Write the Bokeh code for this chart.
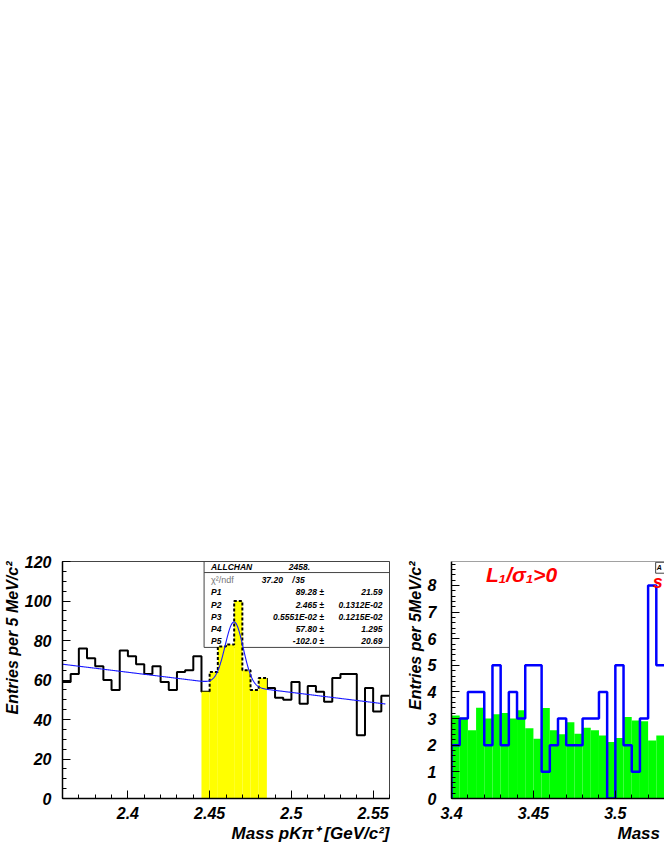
import numpy as np
from bokeh.plotting import figure
from bokeh.models import (Range1d, SingleIntervalTicker, FixedTicker, Span,
                          Label, Title, CustomJSTickFormatter, Spacer)
from bokeh.layouts import column, row
from bokeh.core.properties import value
from bokeh.embed import file_html
from bokeh.resources import INLINE

FONT = "Liberation Sans"

# ---------------- left panel data: M(pK pi) in 5 MeV bins ----------------
LC_X_START = 2.36
LC_X_END = 2.56
LC_BIN_WIDTH = 0.005
LC_COUNTS = [59, 63, 76, 71, 67, 60, 55, 75, 72, 68,
             63, 67, 59, 55, 64, 65, 72, 54, 64, 77,
             78, 100, 65, 55, 61, 56, 51, 50, 59, 48,
             57, 54, 49, 61, 63, 63, 32, 56, 44, 52]
LC_SIGNAL_FIRST = 17   # first signal bin index (2.445)
LC_SIGNAL_LAST = 24    # last signal bin index (2.480-2.485)
LC_X_TICKS = [2.40, 2.45, 2.50, 2.55]
LC_Y_MAX = 120
LC_X_TITLE = "Mass pKπ⁺ [GeV/c²]"
LC_Y_TITLE = "Entries per 5 MeV/c²"

# fit: gaussian (area P1, mean P2, sigma P3) + linear background (P4 + P5*(x-2.46))
FIT_P = [89.28, 2.465, 0.005551, 57.80, -102.0]
FIT_X0 = 2.46
FIT_RANGE = [2.36, 2.5575]

STAT_NAME = "ALLCHAN"
STAT_ENTRIES = "2458."
STAT_CHI2 = "37.20"
STAT_NDF = "35"
PAR_NAMES = ["P1", "P2", "P3", "P4", "P5"]
PAR_VALUES = ["89.28", "2.465", "0.5551E-02", "57.80", "-102.0"]
PAR_ERRORS = ["21.59", "0.1312E-02", "0.1215E-02", "1.295", "20.69"]

# ---------------- right panel data ----------------
R_X_START = 3.40
R_X_END = 3.53
R_BIN_WIDTH = 0.005
R_BLUE_COUNTS = [2, 3, 4, 4, 2, 5, 2, 4, 3, 5,
                 5, 1, 2, 3, 2, 2, 3, 3, 4, 0,
                 5, 2, 1, 3, 8, 5]
R_GREEN_VALUES = [3.12, 3.03, 2.56, 3.41, 3.00, 3.16, 3.21, 3.00, 3.31, 2.64,
                  2.24, 3.40, 2.56, 2.41, 2.86, 2.43, 2.66, 2.56, 2.37, 2.12,
                  2.27, 3.06, 2.93, 2.90, 2.18, 2.37]
R_X_TICKS = [3.40, 3.45, 3.50]
R_Y_MAX = 8.9
R_X_TITLE = "Mass"
R_Y_TITLE = "Entries per 5MeV/c²"
R_CUT_LABEL = "L₁/σ₁>0"


def step_path(x0, w, counts, first, last, from_zero=False, start_level=None):
    xs, ys = [], []
    if from_zero:
        xs.append(x0 + first * w); ys.append(0)
    elif start_level is not None:
        xs.append(x0 + first * w); ys.append(start_level)
    for i in range(first, last + 1):
        xs += [x0 + i * w, x0 + (i + 1) * w]
        ys += [counts[i], counts[i]]
    return xs, ys


def style_axes(p, xticks, xminor, yinterval, yminor, tick_standoff):
    fmt = CustomJSTickFormatter(code="return String(Number(tick.toFixed(3)));")
    p.xaxis.ticker = FixedTicker(ticks=xticks, minor_ticks=xminor)
    p.xaxis.formatter = fmt
    p.yaxis.ticker = SingleIntervalTicker(interval=yinterval, num_minor_ticks=yminor)
    for ax in (p.xaxis[0], p.yaxis[0]):
        ax.major_tick_in = 8
        ax.major_tick_out = 0
        ax.minor_tick_in = 4
        ax.minor_tick_out = 0
        ax.axis_line_width = 1.5
        ax.axis_line_color = "black"
        ax.major_tick_line_color = "black"
        ax.minor_tick_line_color = "black"
        ax.major_label_text_font = FONT
        ax.major_label_text_font_style = "bold italic"
        ax.major_label_text_font_size = "16px"
        ax.major_label_text_color = "black"
    p.xaxis.major_label_standoff = 8
    p.yaxis.major_label_standoff = tick_standoff
    p.grid.visible = False


def add_title(p, text, side, align, offset=0, standoff=1, size="16px"):
    p.add_layout(Title(text=text, align=align, offset=offset, standoff=standoff,
                       text_font=FONT, text_font_style="bold italic",
                       text_font_size=size, text_color="black"), side)


# ================= LEFT FIGURE =================
p1 = figure(width=392, height=299, output_backend="svg", toolbar_location=None,
            x_range=Range1d(LC_X_START, LC_X_END), y_range=Range1d(0, LC_Y_MAX),
            min_border_left=62, min_border_right=3, min_border_top=8,
            min_border_bottom=54)
p1.outline_line_color = "#444444"
p1.outline_line_width = 1
lc_minor = [round(v, 3) for v in np.arange(LC_X_START, LC_X_END + 1e-9, 0.01)]
style_axes(p1, LC_X_TICKS, lc_minor, 20, 4, 11)
add_title(p1, LC_X_TITLE, "below", "right", size="17px")
add_title(p1, LC_Y_TITLE, "left", "right", size="16px")

# stats box (drawn below the data)
box_left = 2.4466
box_bottom = 76.5
p1.quad(left=[box_left], right=[LC_X_END], bottom=[box_bottom], top=[LC_Y_MAX],
        fill_color=None, line_color="#444444", line_width=1)
p1.segment(x0=[box_left], x1=[LC_X_END], y0=[114.4], y1=[114.4],
           line_color="#444444", line_width=1)
row_y = [117.2, 110.4, 104.6, 98.2, 91.9, 85.6, 79.5]
txt_kw = dict(text_font=value(FONT), text_font_style="bold italic",
              text_font_size="8.5px", text_baseline="middle", text_color="black")
p1.text(x=[2.4509] * 6, y=[row_y[0]] + row_y[2:],
        text=[STAT_NAME] + PAR_NAMES, text_align="left", **txt_kw)
p1.text(x=[2.4984], y=[row_y[0]], text=[STAT_ENTRIES], text_align="left", **txt_kw)
p1.text(x=[2.4509], y=[row_y[1]], text=["χ²/ndf"], text_align="left",
        text_font=value(FONT), text_font_style="normal", text_font_size="9px",
        text_baseline="middle", text_color="#777777")
p1.text(x=[2.4948], y=[row_y[1]], text=[STAT_CHI2], text_align="right", **txt_kw)
p1.text(x=[2.5013], y=[row_y[1]], text=["/"], text_align="center", **txt_kw)
p1.text(x=[2.5082], y=[row_y[1]], text=[STAT_NDF], text_align="right", **txt_kw)
p1.text(x=[2.5199] * 5, y=row_y[2:], text=[v + " ±" for v in PAR_VALUES],
        text_align="right", **txt_kw)
p1.text(x=[2.5557] * 5, y=row_y[2:], text=PAR_ERRORS, text_align="right", **txt_kw)

# solid histogram outside the signal window
xs_a, ys_a = step_path(LC_X_START, LC_BIN_WIDTH, LC_COUNTS, 0, LC_SIGNAL_FIRST)
xs_b, ys_b = step_path(LC_X_START, LC_BIN_WIDTH, LC_COUNTS, LC_SIGNAL_LAST + 1,
                       len(LC_COUNTS) - 1, start_level=LC_COUNTS[LC_SIGNAL_LAST])
p1.line(xs_a, ys_a, line_color="black", line_width=2)
p1.line(xs_b, ys_b, line_color="black", line_width=2)

# yellow signal region
sig_idx = list(range(LC_SIGNAL_FIRST, LC_SIGNAL_LAST + 1))
p1.quad(left=[LC_X_START + i * LC_BIN_WIDTH for i in sig_idx],
        right=[LC_X_START + (i + 1) * LC_BIN_WIDTH for i in sig_idx],
        bottom=[0] * len(sig_idx), top=[LC_COUNTS[i] for i in sig_idx],
        fill_color="#ffff00", line_color=None)
xs_d, ys_d = step_path(LC_X_START, LC_BIN_WIDTH, LC_COUNTS, LC_SIGNAL_FIRST + 1,
                       LC_SIGNAL_LAST, start_level=LC_COUNTS[LC_SIGNAL_FIRST])
p1.line(xs_d, ys_d, line_color="black", line_width=2, line_dash="3 2")

# fit curve
xf = np.linspace(FIT_RANGE[0], FIT_RANGE[1], 600)
P1, P2, P3, P4, P5 = FIT_P
yf = (P4 + P5 * (xf - FIT_X0)
      + P1 * LC_BIN_WIDTH / (np.sqrt(2 * np.pi) * P3) * np.exp(-0.5 * ((xf - P2) / P3) ** 2))
p1.line(xf, yf, line_color="#1a1aff", line_width=1.1)

# ================= RIGHT FIGURE =================
p2 = figure(width=272, height=299, output_backend="svg", toolbar_location=None,
            x_range=Range1d(R_X_START, R_X_END), y_range=Range1d(0, R_Y_MAX),
            min_border_left=59, min_border_right=0, min_border_top=8,
            min_border_bottom=54)
p2.outline_line_color = None
r_minor = [round(v, 3) for v in np.arange(R_X_START, R_X_END + 1e-9, 0.01)]
style_axes(p2, R_X_TICKS, r_minor, 1, 5, 15)
add_title(p2, R_X_TITLE, "below", "left", offset=166, size="17px")
add_title(p2, R_Y_TITLE, "left", "right", size="16px")
p2.add_layout(Span(location=R_Y_MAX, dimension="width", line_color="#444444",
                   line_width=1))

n = len(R_GREEN_VALUES)
p2.quad(left=[R_X_START + i * R_BIN_WIDTH for i in range(n)],
        right=[R_X_START + (i + 1) * R_BIN_WIDTH for i in range(n)],
        bottom=[0] * n, top=R_GREEN_VALUES, fill_color="#00ff00", line_color=None)
xs_r, ys_r = step_path(R_X_START, R_BIN_WIDTH, R_BLUE_COUNTS, 0,
                       len(R_BLUE_COUNTS) - 1, from_zero=True)
p2.line(xs_r, ys_r, line_color="#0000ff", line_width=2.5)

p2.add_layout(Label(x=3.421, y=7.98, text=R_CUT_LABEL, text_color="red",
                    text_font=FONT, text_font_style="bold italic",
                    text_font_size="21px"))
p2.add_layout(Label(x=3.5228, y=7.74, text="s", text_color="red",
                    text_font=FONT, text_font_style="bold italic",
                    text_font_size="18px"))
p2.quad(left=[3.5246], right=[3.54], bottom=[8.46], top=[8.87],
        fill_color="white", line_color="#444444", line_width=1)
p2.text(x=[3.5252], y=[8.66], text=["A"], text_font=value(FONT),
        text_font_style="bold italic", text_font_size="7px",
        text_baseline="middle", text_align="left")

layout = column(Spacer(width=664, height=553), row(p1, p2))
open("out.html", "w").write(file_html(layout, INLINE))
